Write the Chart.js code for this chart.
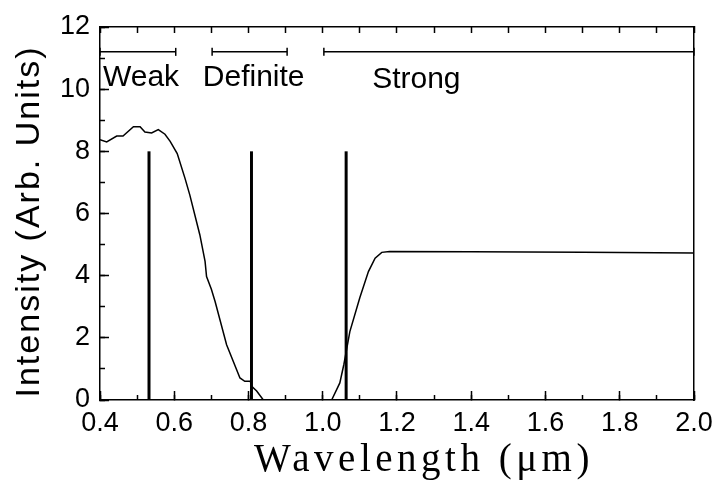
<!DOCTYPE html>
<html>
<head>
<meta charset="utf-8">
<script src="https://cdn.jsdelivr.net/npm/chart.js@4.4.0/dist/chart.umd.min.js"></script>
<style>
  html, body { margin: 0; padding: 0; background: #fff; }
</style>
</head>
<body>
<canvas id="grafica" width="716" height="484"></canvas>
<script>
// curva de intensidad (longitud de onda en um)
const longitudOnda = [0.400, 0.418, 0.445, 0.462, 0.490, 0.508, 0.521, 0.539, 0.557, 0.575, 0.589,
  0.608, 0.629, 0.642, 0.669, 0.683, 0.687, 0.700, 0.710, 0.741, 0.777, 0.790, 0.805, 0.808,
  0.822, 0.840, 1.024, 1.046, 1.057, 1.073, 1.100, 1.123, 1.141, 1.159, 1.180, 1.400, 1.700, 2.000];
const intensidad = [8.37, 8.30, 8.49, 8.49, 8.79, 8.79, 8.62, 8.59, 8.70, 8.55, 8.32,
  7.93, 7.13, 6.59, 5.31, 4.46, 3.97, 3.56, 3.17, 1.78, 0.71, 0.60, 0.60, 0.45,
  0.29, 0.00, 0.00, 0.55, 1.15, 2.20, 3.30, 4.13, 4.56, 4.75, 4.78, 4.77, 4.75, 4.73];

// lineas verticales (laser)
const lineasX = [0.532, 0.808, 1.063];
const lineasAlto = 8;

// rangos de la parte superior
const rangoNombres = ['Weak', 'Definite', 'Strong'];
const rangoInicio = [0.4, 0.702, 1.003];
const rangoFin = [0.604, 0.904, 2.0];
const rangoNivel = 11.2;

// ejes
const xMayores = [0.4, 0.6, 0.8, 1.0, 1.2, 1.4, 1.6, 1.8, 2.0];
const xEtiquetas = ['0.4', '0.6', '0.8', '1.0', '1.2', '1.4', '1.6', '1.8', '2.0'];
const xMenores = [0.4, 0.5, 0.6, 0.7, 0.8, 0.9, 1.0, 1.1, 1.2, 1.3, 1.4, 1.5, 1.6, 1.7, 1.8, 1.9, 2.0];
const yMayores = [0, 2, 4, 6, 8, 10, 12];
const yEtiquetas = ['0', '2', '4', '6', '8', '10', '12'];
const yMenores = [0, 1, 2, 3, 4, 5, 6, 7, 8, 9, 10, 11, 12];

// donde van los textos de los rangos (en unidades de los ejes)
const textoX = [0.408, 0.677, 1.133];
const textoY = [10.1, 10.1, 10.04];

const negro = '#000';
const fuenteTicks = { family: 'Liberation Sans', size: 27 };

let datasets = [];
datasets.push({
  data: longitudOnda.map((x, i) => ({ x: x, y: intensidad[i] })),
  showLine: true, borderColor: negro, borderWidth: 1.5, pointRadius: 0, tension: 0
});
lineasX.forEach(x => {
  datasets.push({
    data: [{ x: x, y: 0 }, { x: x, y: lineasAlto }],
    showLine: true, borderColor: negro, borderWidth: 3, pointRadius: 0
  });
});
rangoInicio.forEach((ini, i) => {
  datasets.push({
    data: [{ x: ini, y: rangoNivel }, { x: rangoFin[i], y: rangoNivel }],
    showLine: true, borderColor: negro, borderWidth: 1.5,
    pointStyle: 'line', rotation: 90, pointRadius: 4, pointBorderWidth: 1.5,
    pointBorderColor: negro, clip: false
  });
});

function ticksFijos(valores) {
  return function (s) { s.ticks = valores.map(v => ({ value: v })); };
}
// tamano fijo de cada eje, sin el margen extra que chart.js deja para las etiquetas
function tamano(ancho, alto) {
  return function (s) {
    if (ancho !== null) s.width = ancho;
    if (alto !== null) s.height = alto;
    s.paddingLeft = 0; s.paddingRight = 0; s.paddingTop = 0; s.paddingBottom = 0;
  };
}

// textos Weak / Definite / Strong
const textosRango = {
  id: 'textosRango',
  afterDatasetsDraw(chart) {
    const { ctx, scales } = chart;
    ctx.save();
    ctx.font = '30px "Liberation Sans"';
    ctx.fillStyle = negro;
    ctx.textAlign = 'left';
    ctx.textBaseline = 'alphabetic';
    rangoNombres.forEach((t, i) => {
      ctx.fillText(t, scales.x.getPixelForValue(textoX[i]), scales.y.getPixelForValue(textoY[i]));
    });
    ctx.restore();
  }
};

// titulos con letras mas separadas y algo corridos, como en la figura
const titulosEspaciados = {
  id: 'titulosEspaciados',
  beforeDraw(chart) {
    [['x', '4.5px', 27, 0], ['y', '2px', 0, 8]].forEach(([id, sp, dx, dy]) => {
      const s = chart.scales[id];
      if (s && !s._espaciado) {
        const original = s.drawTitle;
        s.drawTitle = function () {
          this.ctx.save();
          this.ctx.letterSpacing = sp;
          this.ctx.translate(dx, dy);
          original.call(this);
          this.ctx.restore();
        };
        s._espaciado = true;
      }
    });
  }
};

const ctx = document.getElementById('grafica').getContext('2d');
const grafica = new Chart(ctx, {
  type: 'scatter',
  data: { datasets: datasets },
  options: {
    responsive: false,
    animation: false,
    devicePixelRatio: 1,
    layout: { padding: { top: 27, right: 22, left: 0, bottom: 0 } },
    plugins: { legend: { display: false }, tooltip: { enabled: false } },
    scales: {
      x: {
        type: 'linear', position: 'bottom', weight: 1, min: 0.4, max: 2.0,
        afterBuildTicks: ticksFijos(xMayores),
        afterFit: tamano(null, 84),
        grid: { drawOnChartArea: false, tickLength: -9, tickWidth: 1.5, tickColor: negro },
        border: { display: true, color: negro, width: 1.5 },
        ticks: { autoSkip: false, maxRotation: 0, padding: 16, color: negro, font: fuenteTicks,
          callback: (v, i) => xEtiquetas[i] },
        title: { display: true, text: 'Wavelength (\u03bcm)', color: negro,
          font: { family: 'Liberation Serif', size: 39, lineHeight: 1 }, padding: { bottom: 4 } }
      },
      xMenor: {
        type: 'linear', position: 'bottom', weight: 0, min: 0.4, max: 2.0,
        afterBuildTicks: ticksFijos(xMenores),
        afterFit: tamano(null, 0),
        grid: { drawOnChartArea: false, tickLength: -5, tickWidth: 1.5, tickColor: negro },
        border: { display: false },
        ticks: { display: false }
      },
      xArriba: {
        type: 'linear', position: 'top', min: 0.4, max: 2.0,
        afterBuildTicks: ticksFijos(xMenores),
        afterFit: tamano(null, 0),
        grid: { drawOnChartArea: false, tickLength: -6, tickWidth: 1.5, tickColor: negro },
        border: { display: true, color: negro, width: 1.5 },
        ticks: { display: false }
      },
      y: {
        type: 'linear', position: 'left', weight: 1, min: 0, max: 12,
        afterBuildTicks: ticksFijos(yMayores),
        afterFit: tamano(100, null),
        grid: { drawOnChartArea: false, tickLength: -9, tickWidth: 1.5, tickColor: negro },
        border: { display: true, color: negro, width: 1.5 },
        ticks: { autoSkip: false, padding: 19, color: negro, font: fuenteTicks,
          callback: (v, i) => yEtiquetas[i] },
        title: { display: true, text: 'Intensity (Arb. Units)', color: negro,
          font: { family: 'Liberation Sans', size: 34, lineHeight: 1 }, padding: { top: 13 } }
      },
      yMenor: {
        type: 'linear', position: 'left', weight: 0, min: 0, max: 12,
        afterBuildTicks: ticksFijos(yMenores),
        afterFit: tamano(0, null),
        grid: { drawOnChartArea: false, tickLength: -5, tickWidth: 1.5, tickColor: negro },
        border: { display: false },
        ticks: { display: false }
      },
      yDerecha: {
        type: 'linear', position: 'right', min: 0, max: 12,
        afterFit: tamano(0, null),
        grid: { drawOnChartArea: false, drawTicks: false },
        border: { display: true, color: negro, width: 1.5 },
        ticks: { display: false }
      }
    }
  },
  plugins: [textosRango, titulosEspaciados]
});
</script>
</body>
</html>
